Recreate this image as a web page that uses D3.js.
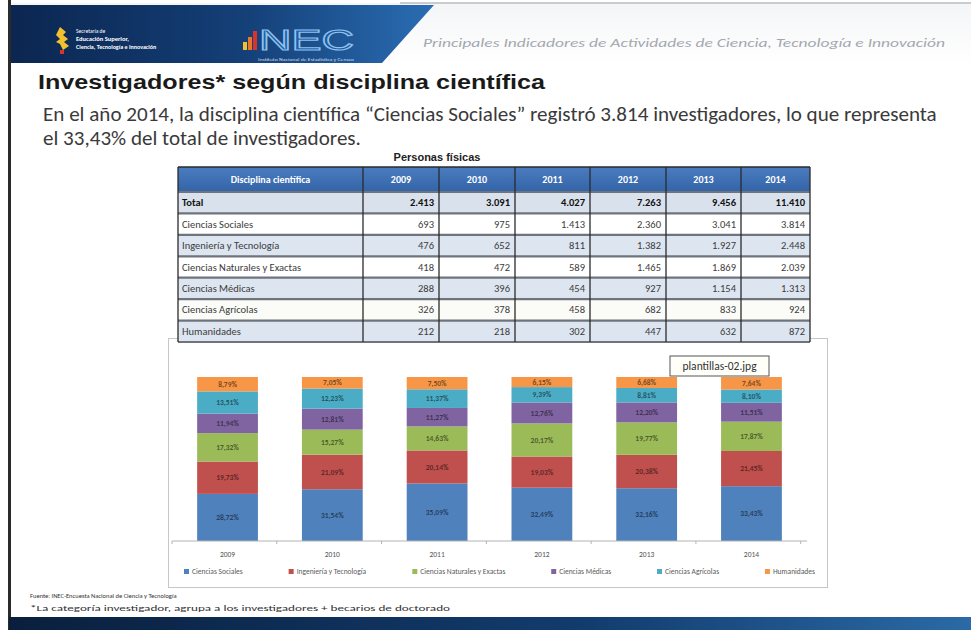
<!DOCTYPE html>
<html>
<head>
<meta charset="utf-8">
<script src="https://cdn.jsdelivr.net/npm/d3@7"></script>
<style>
  body { margin: 0; background: #fff; }
  svg { display: block; }
</style>
</head>
<body>
<svg id="slide" width="971" height="630"></svg>
<script>
// ---- data ----
const years = ['2009', '2010', '2011', '2012', '2013', '2014'];
const disciplines = ['Ciencias Sociales', 'Ingeniería y Tecnología', 'Ciencias Naturales y Exactas',
  'Ciencias Médicas', 'Ciencias Agrícolas', 'Humanidades'];
const totals = [2413, 3091, 4027, 7263, 9456, 11410];
const sociales = [693, 975, 1413, 2360, 3041, 3814];
const ingenieria = [476, 652, 811, 1382, 1927, 2448];
const naturales = [418, 472, 589, 1465, 1869, 2039];
const medicas = [288, 396, 454, 927, 1154, 1313];
const agricolas = [326, 378, 458, 682, 833, 924];
const humanidades = [212, 218, 302, 447, 632, 872];
const colors = ['#4F81BD', '#C0504D', '#9BBB59', '#8064A2', '#4BACC6', '#F79646'];

const series = [sociales, ingenieria, naturales, medicas, agricolas, humanidades];

const es = d3.formatLocale({ decimal: ',', thousands: '.', grouping: [3], currency: ['', ''] });
const fmtInt = es.format(',d');
const fmtPct = v => es.format('.2f')(v * 100) + '%';

const svg = d3.select('#slide');
const sans = "Calibri, Carlito, 'Open Sans', sans-serif";
const defs = svg.append('defs');

// ---- header / frame ----
const g1 = defs.append('linearGradient').attr('id', 'hdrBlue');
g1.append('stop').attr('offset', '0%').attr('stop-color', '#0b2650');
g1.append('stop').attr('offset', '55%').attr('stop-color', '#143f77');
g1.append('stop').attr('offset', '100%').attr('stop-color', '#2a6db3');
const g2 = defs.append('linearGradient').attr('id', 'hdrLight').attr('x2', 0).attr('y2', 1);
g2.append('stop').attr('offset', '0%').attr('stop-color', '#f4f5f7');
g2.append('stop').attr('offset', '100%').attr('stop-color', '#ffffff');
const g3 = defs.append('linearGradient').attr('id', 'footBlue');
g3.append('stop').attr('offset', '0%').attr('stop-color', '#0a1f3d');
g3.append('stop').attr('offset', '60%').attr('stop-color', '#123c6e');
g3.append('stop').attr('offset', '100%').attr('stop-color', '#2b6aa6');
const g4 = defs.append('linearGradient').attr('id', 'thBlue').attr('x2', 0).attr('y2', 1);
g4.append('stop').attr('offset', '0%').attr('stop-color', '#4b7cc0');
g4.append('stop').attr('offset', '100%').attr('stop-color', '#3464a8');

svg.append('rect').attr('x', 9).attr('y', 3).attr('width', 962).attr('height', 62).attr('fill', 'url(#hdrLight)');
svg.append('line').attr('x1', 400).attr('x2', 971).attr('y1', 3).attr('y2', 3)
  .attr('stroke', '#b9bcc2').attr('stroke-width', 1.5);
svg.append('path').attr('d', 'M9,5 L434,5 L382,63 L9,63 Z').attr('fill', 'url(#hdrBlue)');
svg.append('rect').attr('x', 8).attr('y', 0).attr('width', 3).attr('height', 630).attr('fill', '#2b2b2b');

svg.append('text')
  .attr('x', 423).attr('y', 47)
  .attr('font-family', sans).attr('font-style', 'italic').attr('font-size', 12.5)
  .attr('fill', '#a3a8b0')
  .attr('textLength', 522).attr('lengthAdjust', 'spacingAndGlyphs')
  .text('Principales Indicadores de Actividades de Ciencia, Tecnología e Innovación');

// left logo
const logo = svg.append('g');
logo.append('path').attr('d', 'M60,27 l6,5 l-3,3 l5,4 l-4,3 l5,4 l-6,4 l-3,-6 l-4,-2 l4,-3 l-4,-4 z').attr('fill', '#f2c12e');
logo.append('rect').attr('x', 60).attr('y', 50).attr('width', 4).attr('height', 4).attr('fill', '#d9342b');
logo.selectAll('text')
  .data([
    { t: 'Secretaría de', y: 33, w: 'normal', s: 5.5 },
    { t: 'Educación Superior,', y: 41, w: 'bold', s: 6.5 },
    { t: 'Ciencia, Tecnología e Innovación', y: 48.5, w: 'bold', s: 6 }
  ])
  .join('text')
  .attr('x', 76).attr('y', d => d.y)
  .attr('font-family', sans).attr('font-size', d => d.s).attr('font-weight', d => d.w)
  .attr('fill', '#ffffff')
  .text(d => d.t);

// INEC logo
const inec = svg.append('g');
inec.selectAll('rect')
  .data([{ x: 243, h: 8, c: '#f2c12e' }, { x: 248, h: 13, c: '#e8762b' }, { x: 253, h: 19, c: '#d9342b' }])
  .join('rect')
  .attr('x', d => d.x).attr('y', d => 50 - d.h).attr('width', 4).attr('height', d => d.h)
  .attr('fill', d => d.c);
inec.append('text')
  .attr('x', 259).attr('y', 50)
  .attr('font-family', "'Liberation Sans', Arial, sans-serif").attr('font-size', 30)
  .attr('fill', '#1d5aa6').attr('stroke', '#8fc1ea').attr('stroke-width', 1.2)
  .attr('textLength', 95).attr('lengthAdjust', 'spacingAndGlyphs')
  .text('NEC');
inec.append('text')
  .attr('x', 258).attr('y', 61)
  .attr('font-family', sans).attr('font-size', 3.5).attr('fill', '#c9d6e6')
  .attr('textLength', 96).attr('lengthAdjust', 'spacingAndGlyphs')
  .text('Instituto Nacional de Estadística y Censos');

// bottom band
svg.append('rect').attr('x', 9).attr('y', 617).attr('width', 962).attr('height', 13).attr('fill', 'url(#footBlue)');

// ---- title & paragraph ----
svg.append('text')
  .attr('x', 38).attr('y', 89)
  .attr('font-family', "'Liberation Sans', Arial, sans-serif").attr('font-weight', 'bold')
  .attr('font-size', 21).attr('fill', '#1a1a1a')
  .attr('textLength', 507).attr('lengthAdjust', 'spacingAndGlyphs')
  .text('Investigadores* según disciplina científica');

const para = svg.append('g')
  .attr('font-family', sans).attr('fill', '#3a3a3a');
const line1 = para.append('text').attr('x', 43).attr('y', 121).attr('font-size', 16)
  .text('En el año 2014, la disciplina científica “Ciencias Sociales” registró 3.814 investigadores, lo que representa');
const fs = 16 * 894 / line1.node().getComputedTextLength();
line1.attr('font-size', fs);
para.append('text').attr('x', 43).attr('y', 145).attr('font-size', fs)
  .text('el 33,43% del total de investigadores.');

// ---- chart box (drawn before table so table sits on top) ----
svg.append('rect')
  .attr('x', 168.5).attr('y', 338.5).attr('width', 659).attr('height', 249)
  .attr('fill', '#ffffff').attr('stroke', '#c6c6c6');

// ---- table ----
svg.append('text')
  .attr('x', 437).attr('y', 161).attr('text-anchor', 'middle')
  .attr('font-family', "'Liberation Sans', Arial, sans-serif").attr('font-size', 11)
  .attr('font-weight', 'bold').attr('fill', '#222')
  .text('Personas físicas');

const colEdges = [178, 363, 439, 515, 590, 666, 741, 810];
const tableRows = [{ name: 'Total', vals: totals, bold: true }]
  .concat(disciplines.map((d, i) => ({ name: d, vals: series[i], bold: false })));
const headTop = 167, headBottom = 192, tableBottom = 342;
const rowY = d3.scaleBand().domain(d3.range(tableRows.length)).range([headBottom, tableBottom]);
const rowFill = ['#d9e1ec', '#ffffff', '#dde5f0', '#ffffff', '#dde5f0', '#fbfbf8', '#dde5f0'];

const table = svg.append('g').attr('font-family', sans);
table.append('rect')
  .attr('x', colEdges[0]).attr('y', headTop)
  .attr('width', colEdges[7] - colEdges[0]).attr('height', headBottom - headTop)
  .attr('fill', 'url(#thBlue)');
table.selectAll('.rowbg')
  .data(tableRows)
  .join('rect')
  .attr('class', 'rowbg')
  .attr('x', colEdges[0]).attr('y', (d, i) => rowY(i))
  .attr('width', colEdges[7] - colEdges[0]).attr('height', rowY.bandwidth())
  .attr('fill', (d, i) => rowFill[i]);

const headers = ['Disciplina científica'].concat(years);
table.selectAll('.th')
  .data(headers)
  .join('text')
  .attr('class', 'th')
  .attr('x', (d, i) => (colEdges[i] + colEdges[i + 1]) / 2)
  .attr('y', (headTop + headBottom) / 2 + 3.5)
  .attr('text-anchor', 'middle')
  .attr('font-size', 10).attr('font-weight', 'bold').attr('fill', '#ffffff')
  .text(d => d);

const rowG = table.selectAll('.trow')
  .data(tableRows)
  .join('g')
  .attr('class', 'trow')
  .attr('transform', (d, i) => `translate(0,${rowY(i) + rowY.bandwidth() / 2 + 3.5})`);
rowG.append('text')
  .attr('x', colEdges[0] + 4)
  .attr('font-size', 10.5)
  .attr('font-weight', d => (d.bold ? 'bold' : 'normal'))
  .attr('fill', d => (d.bold ? '#111' : '#3c3c3c'))
  .text(d => d.name);
rowG.selectAll('.val')
  .data(d => d.vals.map(v => ({ v, bold: d.bold })))
  .join('text')
  .attr('class', 'val')
  .attr('x', (d, i) => colEdges[i + 2] - 5)
  .attr('text-anchor', 'end')
  .attr('font-size', 10.5)
  .attr('font-weight', d => (d.bold ? 'bold' : 'normal'))
  .attr('fill', d => (d.bold ? '#111' : '#3c3c3c'))
  .text(d => fmtInt(d.v));

// grid lines
table.selectAll('.hline')
  .data(d3.range(tableRows.length + 1))
  .join('line')
  .attr('class', 'hline')
  .attr('x1', colEdges[0]).attr('x2', colEdges[7])
  .attr('y1', i => (i === tableRows.length ? tableBottom : rowY(i)))
  .attr('y2', i => (i === tableRows.length ? tableBottom : rowY(i)))
  .attr('stroke', '#6f747c').attr('stroke-width', 2.2);
table.selectAll('.vline')
  .data(colEdges)
  .join('line')
  .attr('class', 'vline')
  .attr('x1', d => d).attr('x2', d => d)
  .attr('y1', headTop).attr('y2', tableBottom)
  .attr('stroke', '#2a2a2a').attr('stroke-width', 1.3);
table.append('line')
  .attr('x1', colEdges[0]).attr('x2', colEdges[7]).attr('y1', headTop).attr('y2', headTop)
  .attr('stroke', '#2a2a2a').attr('stroke-width', 1.3);

// ---- stacked 100% bar chart ----
const rows = years.map((y, i) => {
  const r = { year: y };
  disciplines.forEach((d, k) => { r[d] = series[k][i]; });
  return r;
});
const stacked = d3.stack().keys(disciplines).offset(d3.stackOffsetExpand)(rows);

const x = d3.scaleBand().domain(years).range([172, 807]).paddingInner(0.42).paddingOuter(0.24);
const y = d3.scaleLinear().domain([0, 1]).range([541, 377]);
const color = d3.scaleOrdinal().domain(disciplines).range(colors);

const chart = svg.append('g');
const layer = chart.selectAll('.layer')
  .data(stacked)
  .join('g')
  .attr('class', 'layer')
  .attr('fill', d => color(d.key));
layer.selectAll('rect')
  .data(d => d)
  .join('rect')
  .attr('x', d => x(d.data.year))
  .attr('y', d => y(d[1]))
  .attr('width', x.bandwidth())
  .attr('height', d => y(d[0]) - y(d[1]));
layer.selectAll('text')
  .data(d => d.map(s => ({ s, key: d.key })))
  .join('text')
  .attr('x', d => x(d.s.data.year) + x.bandwidth() / 2)
  .attr('y', d => (y(d.s[0]) + y(d.s[1])) / 2 + 2.7)
  .attr('text-anchor', 'middle')
  .attr('font-family', sans).attr('font-size', 7.5).attr('font-weight', 'bold')
  .attr('fill', d => d3.color(color(d.key)).darker(1.9))
  .text(d => fmtPct(d.s[1] - d.s[0]));

// x axis
const xAxis = chart.append('g').attr('transform', 'translate(0,541)');
xAxis.append('line').attr('x1', 172).attr('x2', 807).attr('stroke', '#b3b3b3');
xAxis.selectAll('.tick')
  .data(d3.range(years.length + 1))
  .join('line')
  .attr('class', 'tick')
  .attr('x1', i => 172 + i * x.step())
  .attr('x2', i => 172 + i * x.step())
  .attr('y1', 0).attr('y2', 3)
  .attr('stroke', '#b3b3b3');
xAxis.selectAll('text')
  .data(years)
  .join('text')
  .attr('x', d => x(d) + x.bandwidth() / 2)
  .attr('y', 16)
  .attr('text-anchor', 'middle')
  .attr('font-family', sans).attr('font-size', 7.5).attr('fill', '#555')
  .text(d => d);

// legend
const legend = chart.append('g').attr('transform', 'translate(0,572)');
const items = legend.selectAll('g')
  .data(disciplines)
  .join('g');
items.append('rect')
  .attr('x', 0).attr('y', -3).attr('width', 5).attr('height', 5)
  .attr('fill', d => color(d));
items.append('text')
  .attr('x', 8).attr('y', 2)
  .attr('font-family', sans).attr('font-size', 7.5).attr('fill', '#595959')
  .text(d => d);
const widths = items.nodes().map(n => n.getBBox().width);
const legStart = 184, legEnd = 815;
const gap = (legEnd - legStart - d3.sum(widths)) / (widths.length - 1);
let cx = legStart;
items.each(function (d, i) {
  d3.select(this).attr('transform', `translate(${cx},0)`);
  cx += widths[i] + gap;
});

// tooltip label left over on the slide
const tip = svg.append('g').attr('transform', 'translate(670,356)');
tip.append('rect').attr('width', 99).attr('height', 20)
  .attr('fill', '#fffffa').attr('stroke', '#555').attr('stroke-width', 1);
tip.append('text').attr('x', 49.5).attr('y', 14).attr('text-anchor', 'middle')
  .attr('font-family', sans).attr('font-size', 11.5).attr('fill', '#333')
  .text('plantillas-02.jpg');

// ---- footer notes ----
svg.append('text')
  .attr('x', 30).attr('y', 598)
  .attr('font-family', sans).attr('font-size', 6.5).attr('fill', '#333')
  .text('Fuente: INEC-Encuesta Nacional de Ciencia y Tecnología');
svg.append('text')
  .attr('x', 30).attr('y', 611)
  .attr('font-family', sans).attr('font-size', 8.5).attr('fill', '#333')
  .attr('textLength', 420).attr('lengthAdjust', 'spacingAndGlyphs')
  .text('*La categoría investigador, agrupa a los investigadores + becarios de doctorado');
</script>
</body>
</html>
